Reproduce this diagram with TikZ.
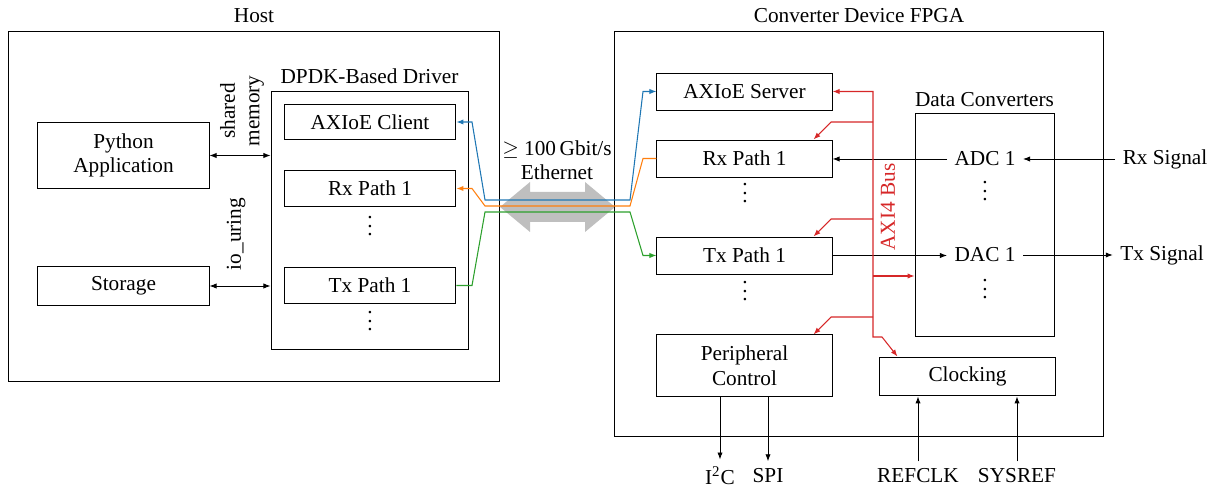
\documentclass[tikz,border=0pt]{standalone}
\usepackage{fontspec}
\setmainfont{Liberation Serif}
\usetikzlibrary{arrows.meta,calc}
\definecolor{cblue}{HTML}{1F77B4}
\definecolor{corange}{HTML}{FF7F0E}
\definecolor{cgreen}{HTML}{2CA02C}
\definecolor{cred}{HTML}{D62728}
\newcommand{\vdotsbox}{\raisebox{0pt}[9pt][0pt]{$\vdots$}}
\begin{document}
\begin{tikzpicture}[x=0.47pt,y=-0.47pt,
  font=\fontsize{10}{11.5}\selectfont,
  >={Latex[length=3.3pt,width=2.5pt]},
  line width=0.45pt,
  box/.style={draw, line width=0.45pt, inner sep=0pt, align=center},
  dots/.style={inner sep=0pt},
  link/.style={line width=0.5pt}]
\useasboundingbox (0,0) rectangle (1223,488);

% Ethernet double arrow (drawn first, under everything)
\fill[gray!50] (500,207) -- (530,182) -- (530,192) -- (585,192) -- (585,182)
  -- (615,207) -- (585,232) -- (585,222) -- (530,222) -- (530,232) -- cycle;

% ---------------- Host ----------------
\node[box, minimum width=231.2pt, minimum height=164.5pt] (host) at (254,206) {};
\node (hostlbl) at (254,16) {Host};
\node[box, minimum width=80.4pt, minimum height=30.6pt] (py) at (123.5,155.5) {Python\\Application};
\node[box, minimum width=80.4pt, minimum height=17.9pt] (sto) at (123.5,286) {Storage};
\node[box, minimum width=92.6pt, minimum height=121.7pt] (dpdk) at (369.5,220.5) {};
\node (dpdklbl) at (369.5,76) {DPDK-Based Driver};
\node[box, minimum width=80.8pt, minimum height=16.9pt] (acl) at (370,122) {AXIoE Client};
\node[box, minimum width=80.8pt, minimum height=16.9pt] (rxh) at (370,188.5) {Rx Path 1};
\node[dots] (vh1) at (370,226) {\vdotsbox};
\node[box, minimum width=80.8pt, minimum height=16.9pt] (txh) at (370,285.5) {Tx Path 1};
\node[dots] (vh2) at (370,321) {\vdotsbox};

\draw[<->] (py.east) -- (py.east -| dpdk.west);
\draw[<->] (sto.east) -- (sto.east -| dpdk.west);
\node[rotate=90, align=center] (smlbl) at (242,111) {shared\\memory};
\node[rotate=90] (iolbl) at (236,234) {io\_uring};

\node[align=center] (eth) at (557,160) {$\geq$ 100\,Gbit/s\\Ethernet};

% ---------------- FPGA ----------------
\node[box, minimum width=229.4pt, minimum height=190.8pt] (fpga) at (859,234) {};
\node (fpgalbl) at (859,16) {Converter Device FPGA};
\node[box, minimum width=82.3pt, minimum height=17.4pt] (asv) at (744.5,91.5) {AXIoE Server};
\node[box, minimum width=82.3pt, minimum height=17.4pt] (rxf) at (744.5,158.5) {Rx Path 1};
\node[dots] (vf1) at (745,193) {\vdotsbox};
\node[box, minimum width=82.3pt, minimum height=17.4pt] (txf) at (744.5,255.5) {Tx Path 1};
\node[dots] (vf2) at (745,291) {\vdotsbox};
\node[box, minimum width=82.3pt, minimum height=28.7pt] (per) at (744.5,365.5) {Peripheral\\Control};
\node[box, minimum width=82.3pt, minimum height=18.3pt] (clk) at (967.5,376.5) {Clocking};
\node[box, minimum width=65.3pt, minimum height=104.8pt] (dc) at (984.5,224.5) {};
\node (dclbl) at (984.5,100) {Data Converters};
\node (adc) at (985,159) {ADC 1};
\node[dots] (va) at (985,191) {\vdotsbox};
\node (dac) at (985,255) {DAC 1};
\node[dots] (vd) at (985,289) {\vdotsbox};
\node (rxs) at (1165,159) {Rx Signal};
\node (txs) at (1162,255) {Tx Signal};
\node (i2c) at (720,476) {I\textsuperscript{2}C};
\node (spi) at (768,476) {SPI};
\node (refclk) at (918,476) {REFCLK};
\node (sysref) at (1017,476) {SYSREF};

\draw[->] (adc.west) -- (adc.west -| rxf.east);
\draw[->] (rxs.west) -- (adc.east);
\draw[->] (txf.east) -- (txf.east -| dac.west);
\draw[->] (dac.east) -- (dac.east -| txs.west);
\draw[->] (per.south -| i2c) -- (i2c.north);
\draw[->] (per.south -| spi) -- (spi.north);
\draw[->] (refclk.north) -- (clk.south -| refclk);
\draw[->] (sysref.north) -- (clk.south -| sysref);

% ---------------- Ethernet links ----------------
\draw[link, cblue, <->] (acl.east) -- (472,122) -- (485,200) -- (630,200) -- (643,91.5) -- (asv.west);
\draw[link, corange, ->] (rxf.west) -- (643,158.5) -- (630,206) -- (485,206) -- (472,188.5) -- (rxh.east);
\draw[link, cgreen, ->] (txh.east) -- (472,285.5) -- (485,212) -- (630,212) -- (643,255.5) -- (txf.west);

% ---------------- AXI4 bus ----------------
\draw[link, cred, <->] (asv.east) -- (873,91.5) -- (873,337) -- (882,337) -- ($(clk.north west)+(18,0)$);
\draw[link, cred, ->] (873,122) -- (831,122) -- ($(rxf.north east)+(-19,0)$);
\draw[link, cred, ->] (873,219) -- (831,219) -- ($(txf.north east)+(-19,0)$);
\draw[link, cred, ->] (873,317) -- (831,317) -- ($(per.north east)+(-19,0)$);
\draw[link, cred, ->] (873,276) -- ($(dc.west)+(0,51.5)$);
\node[cred, rotate=90] (axi) at (888,207) {AXI4 Bus};
\end{tikzpicture}
\end{document}
